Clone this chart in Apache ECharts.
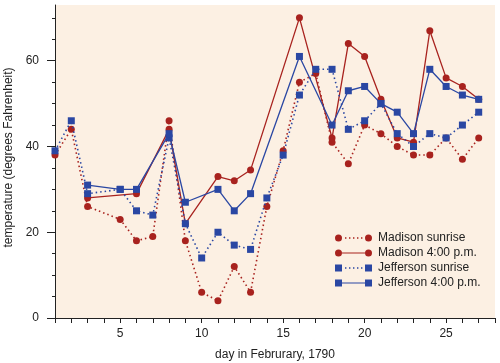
<!DOCTYPE html>
<html>
<head>
<meta charset="utf-8">
<script src="https://cdn.jsdelivr.net/npm/echarts@6/dist/echarts.min.js"></script>
<style>html,body{margin:0;padding:0;background:#fff}#c{width:500px;height:363px}</style>
</head>
<body>
<div id="c"></div>
<script>
const days = [1,2,3,4,5,6,7,8,9,10,11,12,13,14,15,16,17,18,19,20,21,22,23,24,25,26,27];
const madisonSunrise = [38,44,26,null,23,18,19,46,18,6,4,12,6,26,39,55,57,41,36,45,43,40,38,38,42,37,42];
const madison4pm = [null,null,28,null,null,29,null,44,22,null,33,32,34.5,null,null,70,null,42,64,61,51,42,41,67,56,54,51];
const jeffersonSunrise = [39,46,29,null,30,25,24,42,22,14,20,17,16,28,38,52,58,58,44,46,50,43,40,43,42,45,48];
const jefferson4pm = [null,null,31,null,30,30,null,43,27,null,30,25,29,null,null,61,null,45,53,54,50,48,43,58,54,52,51];
const seriesNames = ['Madison sunrise','Madison 4:00 p.m.','Jefferson sunrise','Jefferson 4:00 p.m.'];
const xLabelTicks = [5,10,15,20,25];
const xTicks = [1,2,3,4,5,6,7,8,9,10,11,12,13,14,15,16,17,18,19,20,21,22,23,24,25,26,27,28];
const yMajorTicks = [0,20,40,60];
const yMinorTicks = [5,10,15,25,30,35,45,50,55,65,70];

const RED = '#a8221e';
const BLUE = '#2a47a3';
const FONT = '"Liberation Sans", Arial, Helvetica, sans-serif';

const circle = (cx) => `M${cx-3.5},3.5 A3.5,3.5 0 1,1 ${cx+3.5},3.5 A3.5,3.5 0 1,1 ${cx-3.5},3.5 Z`;
const square = (x) => `M${x},0 h7 v7 h-7 Z`;
const solidSeg = 'M7,2.9 L30,2.9 L30,4.1 L7,4.1 Z';
const dotSeg = [10,14,18,22,26].map(x => `M${x},2.8 h1.4 v1.4 h-1.4 Z`).join(' ');
const icons = [
  'path://' + circle(3.5) + ' ' + dotSeg + ' ' + circle(33.5),
  'path://' + circle(3.5) + ' ' + solidSeg + ' ' + circle(33.5),
  'path://' + square(0) + ' ' + dotSeg + ' ' + square(30),
  'path://' + square(0) + ' ' + solidSeg + ' ' + square(30)
];

const pairs = arr => days.map((d, i) => [d, arr[i]]);
const values = [madisonSunrise, madison4pm, jeffersonSunrise, jefferson4pm];
const colors = [RED, RED, BLUE, BLUE];
const symbols = ['circle','circle','rect','rect'];
const dashed = [true,false,true,false];

const chart = echarts.init(document.getElementById('c'), null, {renderer:'canvas'});
chart.setOption({
  animation: false,
  textStyle: {fontFamily: FONT},
  grid: {left: 55, right: 5, top: 5, bottom: 45, show: true, backgroundColor: '#fcf0e3', borderWidth: 0,
         containLabel: false, outerBoundsMode: 'none'},
  legend: {
    orient: 'vertical', left: 330, top: 226,
    itemWidth: 37, itemHeight: 7, itemGap: 1,
    itemStyle: {borderWidth: 0},
    textStyle: {fontFamily: FONT, fontSize: 12, color: '#222', padding: [0,0,0,1], lineHeight: 14},
    data: seriesNames.map((n, i) => ({name: n, icon: icons[i]}))
  },
  xAxis: {
    type: 'value', min: 1, max: 28, interval: 1,
    name: 'day in Februrary, 1790', nameLocation: 'middle', nameGap: 31,
    nameTextStyle: {fontFamily: FONT, fontSize: 12, color: '#222'},
    axisLine: {show: true, lineStyle: {color: '#222', width: 1}},
    axisTick: {show: true, length: 5, lineStyle: {color: '#222'}, customValues: xTicks},
    axisLabel: {fontFamily: FONT, fontSize: 12, color: '#222', margin: 10, customValues: xLabelTicks},
    splitLine: {show: false}
  },
  yAxis: [{
    type: 'value', min: 0, max: 73, interval: 20,
    name: 'temperature (degrees Fahrenheit)', nameLocation: 'middle', nameGap: 37,
    nameTextStyle: {fontFamily: FONT, fontSize: 12, color: '#222', padding: [0,0,0,8]},
    axisLine: {show: true, lineStyle: {color: '#222', width: 1}},
    axisTick: {show: true, length: 8, lineStyle: {color: '#222'}, customValues: yMajorTicks},
    axisLabel: {fontFamily: FONT, fontSize: 12, color: '#222', margin: 16, customValues: yMajorTicks},
    splitLine: {show: false}
  }, {
    type: 'value', min: 0, max: 73, position: 'left',
    axisLine: {show: false},
    axisTick: {show: true, length: 3, lineStyle: {color: '#222'}, customValues: yMinorTicks},
    axisLabel: {show: false},
    splitLine: {show: false}
  }],
  series: seriesNames.map((n, i) => ({
    name: n, type: 'line', data: pairs(values[i]), connectNulls: true,
    symbol: symbols[i], symbolSize: 7, clip: false,
    itemStyle: {color: colors[i], borderWidth: 0},
    lineStyle: {color: colors[i], width: dashed[i] ? 1.6 : 1.3, type: dashed[i] ? [1.5, 3] : 'solid'},
    z: 2 + i
  }))
});
</script>
</body>
</html>
